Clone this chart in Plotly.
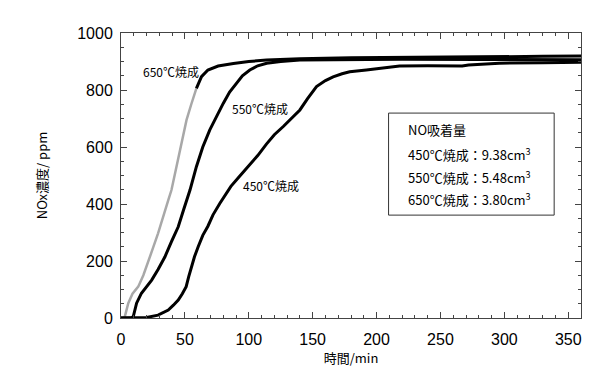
import plotly.graph_objects as go

# ---- data (time in min, NOx concentration in ppm) ----
t650_gray = [0, 2, 3, 5.7, 9, 13.5, 17.5, 21, 25, 29, 33, 37, 39.5, 43.5, 47.4, 51.3, 55, 59]
v650_gray = [0, 0, 5, 52, 85, 110, 150, 192, 245, 297, 360, 414, 449, 530, 613, 695, 750, 806]
t650_black = [59, 61, 63, 68, 76, 88, 100, 114, 140, 180, 220, 260, 300, 330, 360]
v650_black = [806, 830, 847, 870, 884, 893, 900, 905, 910, 913, 915, 917, 918, 918, 919]

t550 = [0, 8, 9.6, 12.2, 16, 20, 24, 29, 34.4, 39.5, 44.8, 49, 54, 59, 64, 69.5, 75, 80, 85,
        90.4, 95, 100.8, 107, 114, 125, 140, 170, 220, 280, 360]
v550 = [0, 0, 5, 52, 87, 110, 133, 170, 215, 268, 320, 380, 449, 531, 600, 660, 710, 753, 793,
        823, 850, 870, 885, 894, 900, 905, 907, 908, 907, 906]

t450 = [0, 10, 20, 29, 33, 37, 41, 44.8, 48, 51, 53, 55, 57.5, 60.4, 64, 68, 72, 77.3, 81, 86,
        93, 100, 107, 113.8, 120, 127, 132, 140, 146, 153, 160, 166, 173, 179, 192, 205, 218,
        240, 262, 267, 272, 296, 330, 360]
v450 = [0, 0, 2, 10, 18, 28, 45, 63, 85, 110, 145, 180, 215, 250, 290, 322, 362, 402, 428, 462,
        498, 533, 570, 610, 643, 672, 695, 730, 770, 812, 833, 846, 857, 864, 870, 877, 884,
        885, 886, 884, 888, 894, 896, 897]

curve_labels = ["650℃焼成", "550℃焼成", "450℃焼成"]
curve_label_x = [39.5, 108.6, 117.7]
curve_label_y = [864, 736, 464]

box_title = "NO吸着量"
box_lines = ["450℃焼成：9.38cm<sup>3</sup>", "550℃焼成：5.48cm<sup>3</sup>", "650℃焼成：3.80cm<sup>3</sup>"]

x_ticks = [0, 50, 100, 150, 200, 250, 300, 350]
y_ticks = [0, 200, 400, 600, 800, 1000]
x_range = [0, 360]
y_range = [0, 1000]

CJK = "Noto Sans CJK JP"
LAT = "Liberation Sans"
AX = "#444"

fig = go.Figure()
fig.add_trace(go.Scatter(x=t650_gray, y=v650_gray, mode="lines",
                         line=dict(color="#a8a8a8", width=2.5), showlegend=False))
fig.add_trace(go.Scatter(x=t650_black, y=v650_black, mode="lines",
                         line=dict(color="black", width=3), showlegend=False))
fig.add_trace(go.Scatter(x=t550, y=v550, mode="lines",
                         line=dict(color="black", width=3), showlegend=False))
fig.add_trace(go.Scatter(x=t450, y=v450, mode="lines",
                         line=dict(color="black", width=3), showlegend=False))

for txt, lx, ly in zip(curve_labels, curve_label_x, curve_label_y):
    fig.add_annotation(x=lx, y=ly, text=txt, showarrow=False,
                       font=dict(family=CJK, size=12, color="black"))

# info box
fig.add_shape(type="rect", x0=209.4, x1=339, y0=361, y1=719,
              line=dict(color="#333", width=1), fillcolor="white", layer="above")
box_y = [663, 575, 495, 419]
for txt, yy in zip([box_title] + box_lines, box_y):
    fig.add_annotation(x=223, y=yy, text=txt, showarrow=False, xanchor="left",
                       font=dict(family=CJK, size=13, color="black"))

# primary axes: labels + titles (transparent outside ticks push labels away from the frame)
fig.update_layout(
    xaxis=dict(range=x_range, tickvals=x_ticks, showgrid=False, zeroline=False,
               showline=True, linecolor=AX, linewidth=1, mirror=True,
               ticks="outside", ticklen=7, tickcolor="rgba(255,255,255,0)",
               tickfont=dict(family=LAT, size=16, color="black"),
               title=dict(text="時間/min", font=dict(family=CJK, size=13, color="black"),
                          standoff=6)),
    yaxis=dict(range=y_range, tickvals=y_ticks, showgrid=False, zeroline=False,
               showline=True, linecolor=AX, linewidth=1, mirror=True,
               ticks="outside", ticklen=4, tickcolor="rgba(255,255,255,0)",
               tickfont=dict(family=LAT, size=16, color="black"),
               title=dict(text="NOx濃度/ ppm", font=dict(family=CJK, size=13, color="black"),
                          standoff=26)),
    # overlay axes: inside major/minor ticks on all four sides
    xaxis2=dict(overlaying="x", range=x_range, tickvals=x_ticks, showticklabels=False,
                showgrid=False, zeroline=False, showline=False, mirror="allticks",
                ticks="inside", ticklen=6, tickcolor=AX,
                minor=dict(dtick=10, ticks="inside", ticklen=3, tickcolor=AX)),
    yaxis2=dict(overlaying="y", range=y_range, tickvals=y_ticks, showticklabels=False,
                showgrid=False, zeroline=False, showline=False, mirror="allticks",
                ticks="inside", ticklen=6, tickcolor=AX,
                minor=dict(dtick=50, ticks="inside", ticklen=3, tickcolor=AX)),
)
# invisible anchor trace so the overlay axes are drawn
fig.add_trace(go.Scatter(x=[x_range[0]], y=[y_range[0]], xaxis="x2", yaxis="y2",
                         mode="markers", marker=dict(opacity=0), hoverinfo="skip",
                         showlegend=False))

fig.update_layout(width=600, height=390, plot_bgcolor="white", paper_bgcolor="white",
                  margin=dict(l=113, r=27, t=25, b=80), showlegend=False)

fig.write_html("out.html")
